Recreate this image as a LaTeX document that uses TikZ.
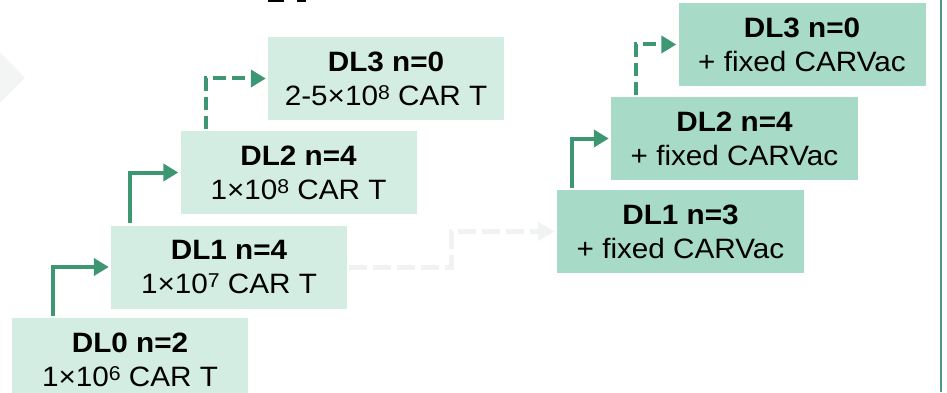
\documentclass[tikz,border=0pt]{standalone}
\usepackage{fontspec}
\setmainfont{Liberation Sans}
\usetikzlibrary{arrows.meta}
\definecolor{boxlight}{HTML}{D4EDE2}
\definecolor{boxdark}{HTML}{A7DBC7}
\definecolor{arrgreen}{HTML}{3D9772}
\definecolor{ghost}{HTML}{F1F3F2}
\definecolor{chev}{HTML}{F3F4F4}
\definecolor{edgegreen}{HTML}{4E9C85}
\newcommand{\twolines}[2]{\scalebox{1.06}[1]{\textbf{#1}}\\\scalebox{1.06}[1]{#2}}
\newcommand{\pw}[1]{\raisebox{5.5pt}{\fontsize{20}{20}\selectfont #1}}
\begin{document}
\begin{tikzpicture}[x=1pt,y=-1pt,
  box/.style={minimum height=83pt, inner sep=0pt, align=center, font=\fontsize{28}{34}\selectfont, text=black},
  lbox/.style={box, fill=boxlight, minimum width=236pt},
  rbox/.style={box, fill=boxdark, minimum width=247pt},
  arr/.style={draw=arrgreen, line width=4pt, shorten >=2pt, shorten <=2pt, -{Triangle[length=15pt,width=17pt]}},
  darr/.style={arr, dash pattern=on 13pt off 6pt},
  garr/.style={draw=ghost, line width=5pt, shorten >=2pt, dash pattern=on 18pt off 6pt, -{Triangle[length=17pt,width=18pt]}}]
\useasboundingbox (0,0) rectangle (947,393);
\clip (0,0) rectangle (947,393);
% background decorations
\fill[chev] (-10,52) -- (0,52) -- (25,78) -- (0,103) -- (-10,103) -- cycle;
\fill[black] (268,0) rectangle (284,2.5);
\fill[black] (297,0) rectangle (306,2.5);
\draw[edgegreen, line width=1.2pt] (941,0) -- (941,392);
% left staircase
\node[lbox] (L0) at (130,359.5) {\twolines{DL0 n=2}{1×10\pw{6} CAR T}};
\node[lbox] (L1) at (229,267) {\twolines{DL1 n=4}{1×10\pw{7} CAR T}};
\node[lbox] (L2) at (298.5,172.5) {\twolines{DL2 n=4}{1×10\pw{8} CAR T}};
\node[lbox] (L3) at (386,78.5) {\twolines{DL3 n=0}{2-5×10\pw{8} CAR T}};
% right staircase
\node[rbox] (R1) at (680.5,231.5) {\twolines{DL1 n=3}{+ fixed CARVac}};
\node[rbox] (R2) at (734.5,138.5) {\twolines{DL2 n=4}{+ fixed CARVac}};
\node[rbox] (R3) at (802,44.5) {\twolines{DL3 n=0}{+ fixed CARVac}};
% connectors
\draw[arr] ([xshift=41pt]L0.north west) |- (L1.west);
\draw[arr] ([xshift=19pt]L1.north west) |- (L2.west);
\draw[darr] ([xshift=26pt]L2.north west) |- (L3.west);
\draw[arr] ([xshift=15pt]R1.north west) |- (R2.west);
\draw[darr] ([xshift=25pt]R2.north west) |- (R3.west);
\draw[garr] ([xshift=2pt]L1.east) -- ++(102,0) |- (R1.west);
\end{tikzpicture}
\end{document}
